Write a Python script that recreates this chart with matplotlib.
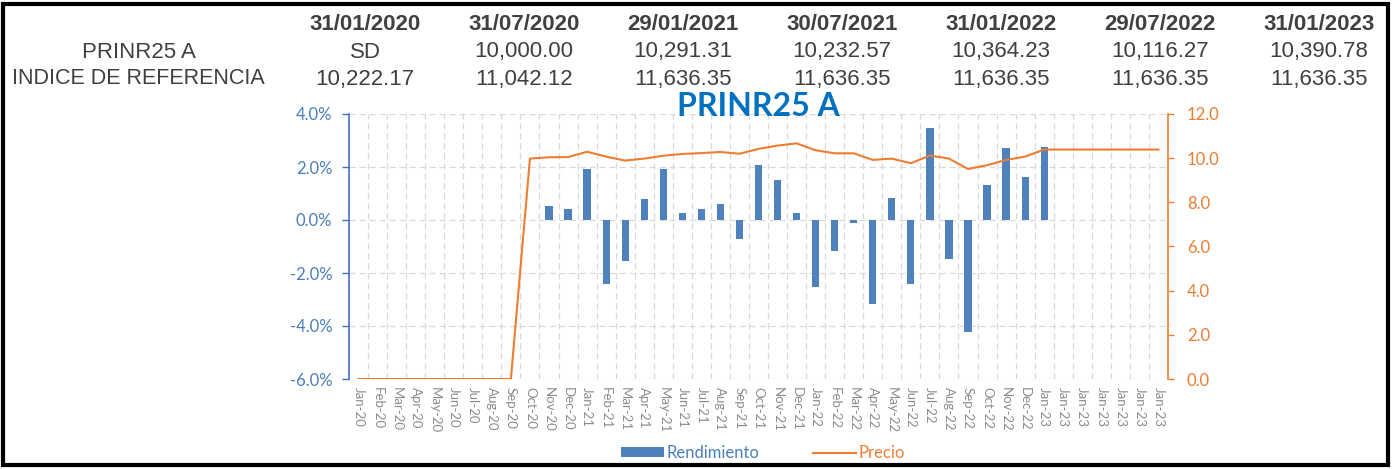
import matplotlib
matplotlib.use('Agg')
import matplotlib.pyplot as plt
import numpy as np
from matplotlib.patches import Rectangle, Patch
from matplotlib.lines import Line2D
from matplotlib.ticker import FuncFormatter

categories = ['Jan-20', 'Feb-20', 'Mar-20', 'Apr-20', 'May-20', 'Jun-20', 'Jul-20', 'Aug-20',
              'Sep-20', 'Oct-20', 'Nov-20', 'Dec-20',
              'Jan-21', 'Feb-21', 'Mar-21', 'Apr-21', 'May-21', 'Jun-21', 'Jul-21', 'Aug-21',
              'Sep-21', 'Oct-21', 'Nov-21', 'Dec-21',
              'Jan-22', 'Feb-22', 'Mar-22', 'Apr-22', 'May-22', 'Jun-22', 'Jul-22', 'Aug-22',
              'Sep-22', 'Oct-22', 'Nov-22', 'Dec-22',
              'Jan-23', 'Jan-23', 'Jan-23', 'Jan-23', 'Jan-23', 'Jan-23', 'Jan-23']

# Rendimiento (%), None = no bar
rendimiento = [None, None, None, None, None, None, None, None, None, None,
               0.53, 0.40,
               1.91, -2.42, -1.55, 0.78, 1.91, 0.28, 0.40, 0.59, -0.73, 2.08, 1.51, 0.25,
               -2.54, -1.16, -0.10, -3.17, 0.82, -2.42, 3.46, -1.48, -4.21, 1.32, 2.70, 1.64,
               2.77, None, None, None, None, None, None]

precio = [0, 0, 0, 0, 0, 0, 0, 0, 0, 9.98, 10.04, 10.05,
          10.29, 10.07, 9.89, 9.98, 10.11, 10.19, 10.23, 10.28, 10.20, 10.42, 10.57, 10.67,
          10.36, 10.22, 10.22, 9.92, 9.98, 9.77, 10.12, 9.98, 9.51, 9.68, 9.92, 10.07,
          10.39, 10.39, 10.39, 10.39, 10.39, 10.39, 10.39]

header_dates = ['31/01/2020', '31/07/2020', '29/01/2021', '30/07/2021',
                '31/01/2022', '29/07/2022', '31/01/2023']
prinr_values = ['SD', '10,000.00', '10,291.31', '10,232.57', '10,364.23', '10,116.27', '10,390.78']
indice_values = ['10,222.17', '11,042.12', '11,636.35', '11,636.35', '11,636.35',
                 '11,636.35', '11,636.35']
row_labels = ['PRINR25 A', 'INDICE DE REFERENCIA']
chart_title = 'PRINR25 A'

W, H = 1394, 469
fig = plt.figure(figsize=(W / 100, H / 100), dpi=100)
fig.patch.set_facecolor('white')


def fx(px):
    return px / W


def fy(py):
    return 1 - py / H


chart_font = ['Lato', 'DejaVu Sans']
table_font = ['Liberation Sans Narrow', 'Liberation Sans', 'DejaVu Sans']

ax = fig.add_axes([fx(349), fy(379), fx(1168) - fx(349), fy(114) - fy(379)])
x = np.arange(len(categories))
r = np.array([np.nan if v is None else v for v in rendimiento], dtype=float)
ax.bar(x, r, width=0.38, color='#4F81BD', zorder=2)
ax.set_xlim(-0.5, len(categories) - 0.5)
ax.set_ylim(-6, 4)
ax.set_yticks([-6, -4, -2, 0, 2, 4])
ax.yaxis.set_major_formatter(FuncFormatter(lambda v, p: f'{v:.1f}%'))
ax.set_xticks(x)
ax.set_xticklabels(categories, rotation=-90, fontsize=9.5, color='#8C8C8C', family=chart_font)
ax.set_xticks(np.arange(0.5, len(categories) - 1, 1.0), minor=True)
ax.grid(axis='y', which='major', linestyle=(0, (5, 3)), color='#D9D9D9', lw=0.9)
ax.grid(axis='x', which='minor', linestyle=(0, (5, 3)), color='#D9D9D9', lw=0.9)
ax.set_axisbelow(True)
ax.tick_params(axis='x', which='both', length=0, pad=6)
ax.tick_params(axis='y', direction='out', length=5, width=1, color='#4472C4',
               labelcolor='#4A7EBB', labelsize=12, pad=7)
for lab in ax.get_yticklabels():
    lab.set_family(chart_font)
for s in ['top', 'bottom', 'right']:
    ax.spines[s].set_visible(False)
ax.spines['left'].set_color('#4472C4')
ax.spines['left'].set_linewidth(1.2)

ax2 = ax.twinx()
ax2.plot(x, precio, color='#ED7D31', lw=1.5, zorder=3)
ax2.set_ylim(0, 12)
ax2.set_yticks([0, 2, 4, 6, 8, 10, 12])
ax2.yaxis.set_major_formatter(FuncFormatter(lambda v, p: f'{v:.1f}'))
ax2.tick_params(axis='y', direction='out', length=4.5, width=1, color='#ED7D31',
                labelcolor='#ED7D31', labelsize=12, pad=9)
for lab in ax2.get_yticklabels():
    lab.set_family(chart_font)
for s in ['top', 'bottom', 'left']:
    ax2.spines[s].set_visible(False)
ax2.spines['right'].set_color('#ED7D31')
ax2.spines['right'].set_linewidth(1.2)

fig.text(fx(758), fy(106), chart_title, ha='center', va='center', fontsize=23,
         fontweight='bold', color='#0070C0', family=chart_font)

handles = [Patch(facecolor='#4F81BD', label='Rendimiento'),
           Line2D([], [], color='#ED7D31', lw=1.5, label='Precio')]
leg = fig.legend(handles=handles, loc='center', bbox_to_anchor=(fx(763), fy(453)), ncol=2,
                 frameon=False, prop={'family': chart_font, 'size': 12},
                 handlelength=2.6, handleheight=0.55, columnspacing=3.2, handletextpad=0.15)
leg.get_texts()[0].set_color('#4A7EBB')
leg.get_texts()[1].set_color('#ED7D31')

# Header table
col_x = [365, 524, 683, 842, 1001, 1160, 1319]
for cx, d, p, i in zip(col_x, header_dates, prinr_values, indice_values):
    fig.text(fx(cx), fy(25), d, ha='center', va='center', fontsize=16, fontweight='bold',
             color='#404040', family=table_font)
    fig.text(fx(cx), fy(52), p, ha='center', va='center', fontsize=16,
             color='#404040', family=table_font)
    fig.text(fx(cx), fy(79), i, ha='center', va='center', fontsize=16,
             color='#404040', family=table_font)
fig.text(fx(139), fy(52), row_labels[0], ha='center', va='center', fontsize=16,
         color='#404040', family=table_font)
fig.text(fx(138), fy(79), row_labels[1], ha='center', va='center', fontsize=15.5,
         color='#404040', family=table_font)

# black frame
fig.patches.append(Rectangle((fx(3), fy(465)), fx(1388) - fx(3), fy(4) - fy(465),
                             transform=fig.transFigure, fill=False, edgecolor='black',
                             lw=3, zorder=10))

fig.savefig('out.png', dpi=100, facecolor='white')
